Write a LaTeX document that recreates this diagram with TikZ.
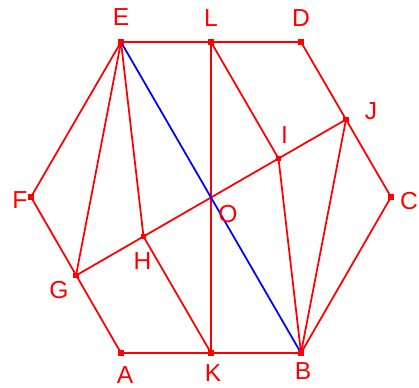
\documentclass[tikz,border=0pt]{standalone}
\usepackage{fontspec}
\setmainfont{Liberation Sans}
\usepackage{tikz}
\usetikzlibrary{positioning}
\tikzset{
  pt/.style={
    draw=none,
    rectangle,
    minimum size=0.11cm,
    inner sep=0pt,
    fill=red,
  },
  lbl/.style={
    text=red,
    inner sep=0pt,
    font=\fontsize{14}{16}\selectfont,
  },
  seg/.style={draw=red, line width=1pt},
  diag/.style={draw=blue, line width=1pt},
}
\begin{document}
\begin{tikzpicture}[x=0.02cm, y=-0.02cm]
  \useasboundingbox (0,0) rectangle (419,387);
  % hexagon and points
  \coordinate (A) at (121,353);
  \coordinate (B) at (301,353);
  \coordinate (C) at (391,197);
  \coordinate (D) at (301,42);
  \coordinate (E) at (121,42);
  \coordinate (F) at (31,197);
  \coordinate (O) at (211,197.5);
  \coordinate (L) at (211,42);
  \coordinate (K) at (211,353);
  \coordinate (G) at (76,275.5);
  \coordinate (J) at (346,119.5);
  \coordinate (H) at (143.5,236.5);
  \coordinate (I) at (278.5,158.5);
  \draw[seg] (A) -- (B) -- (C) -- (D) -- (E) -- (F) -- (A);
  \draw[seg] (L) -- (K);
  \draw[seg] (G) -- (J);
  \draw[seg] (E) -- (G);
  \draw[seg] (E) -- (H);
  \draw[seg] (H) -- (K);
  \draw[seg] (L) -- (I);
  \draw[seg] (I) -- (B);
  \draw[seg] (J) -- (B);
  \draw[diag] (E) -- (B);
  \foreach \p in {A,B,C,D,E,F,L,K,G,J,H,I}
    \node[pt] at (\p) {};
  % labels
  \node[lbl] (lA) at ([shift={(4,22)}]A) {A};
  \node[lbl] (lB) at ([shift={(2,18)}]B) {B};
  \node[lbl] (lC) at ([shift={(18,4)}]C) {C};
  \node[lbl] (lD) at ([shift={(0,-24)}]D) {D};
  \node[lbl] (lE) at ([shift={(0,-25)}]E) {E};
  \node[lbl] (lF) at ([shift={(-11,3)}]F) {F};
  \node[lbl] (lG) at ([shift={(-17,15)}]G) {G};
  \node[lbl] (lH) at ([shift={(-1,25)}]H) {H};
  \node[lbl] (lI) at ([shift={(6,-23)}]I) {I};
  \node[lbl] (lJ) at ([shift={(25,-8)}]J) {J};
  \node[lbl] (lK) at ([shift={(2,20)}]K) {K};
  \node[lbl] (lL) at ([shift={(0,-24)}]L) {L};
  \node[lbl] (lO) at ([shift={(17,17)}]O) {O};
\end{tikzpicture}
\end{document}
